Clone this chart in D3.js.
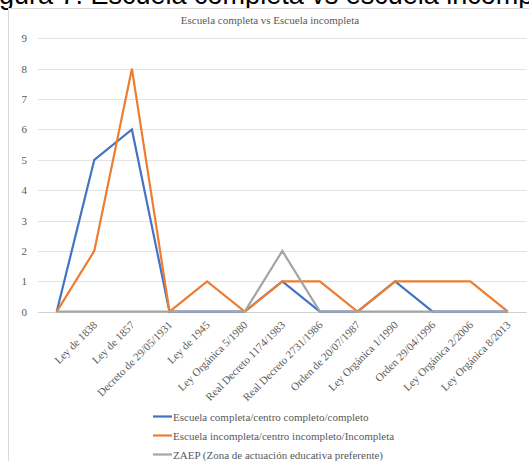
<!DOCTYPE html>
<html>
<head>
<meta charset="utf-8">
<script src="https://cdn.jsdelivr.net/npm/d3@7"></script>
<style>
  html, body { margin: 0; padding: 0; background: #fff; }
  svg { display: block; }
</style>
</head>
<body>
<svg id="chart" width="529" height="461"></svg>
<script>
// Categories (first slot is an unlabeled starting point)
const categories = [
  "", "Ley de 1838", "Ley de 1857", "Decreto de 29/05/1931", "Ley de 1945",
  "Ley Orgánica 5/1980", "Real Decreto 1174/1983", "Real Decreto 2731/1986",
  "Orden de 20/07/1987", "Ley Orgánica 1/1990", "Orden 29/04/1996",
  "Ley Orgánica 2/2006", "Ley Orgánica 8/2013"
];
const completa   = [0, 5, 6, 0, 0, 0, 1, 0, 0, 1, 0, 0, 0];
const incompleta = [0, 2, 8, 0, 1, 0, 1, 1, 0, 1, 1, 1, 0];
const zaep       = [0, 0, 0, 0, 0, 0, 2, 0, 0, 0, 0, 0, 0];
const yTicks = [0, 1, 2, 3, 4, 5, 6, 7, 8, 9];
const seriesNames = [
  "Escuela completa/centro completo/completo",
  "Escuela incompleta/centro incompleto/Incompleta",
  "ZAEP (Zona de actuación educativa preferente)"
];
const seriesColors = ["#4472C4", "#ED7D31", "#A5A5A5"];
const chartTitle = "Escuela completa vs Escuela incompleta";
const captionText = "Figura 7. Escuela completa vs escuela incompleta";

const svg = d3.select("#chart");
const serif = "'Liberation Serif', 'Times New Roman', serif";

// Caption above the chart frame (runs past the page edges)
const cap = svg.append("text")
  .attr("y", 4)
  .attr("font-family", "'Liberation Sans', Arial, sans-serif")
  .attr("font-size", 27)
  .attr("fill", "#000")
  .text(captionText);
const offset = cap.node().getSubStringLength(0, 2);
cap.attr("x", -offset - 1);

// Chart frame
svg.append("rect")
  .attr("x", 8.5).attr("y", 8.5)
  .attr("width", 700).attr("height", 700)
  .attr("fill", "#fff")
  .attr("stroke", "#d9d9d9")
  .attr("stroke-width", 1);

// Title
svg.append("text")
  .attr("x", 270).attr("y", 24)
  .attr("text-anchor", "middle")
  .attr("font-family", serif)
  .attr("font-size", 11)
  .attr("fill", "#595959")
  .text(chartTitle);

const plot = { left: 37.9, right: 526.7, top: 38.3, bottom: 311.7 };

const x = d3.scalePoint()
  .domain(d3.range(categories.length))
  .range([plot.left, plot.right])
  .padding(0.5);

const y = d3.scaleLinear()
  .domain([0, 9])
  .range([plot.bottom, plot.top]);

// Gridlines
svg.append("g")
  .selectAll("line")
  .data(yTicks.filter(d => d > 0))
  .join("line")
  .attr("x1", plot.left).attr("x2", plot.right)
  .attr("y1", d => Math.round(y(d)) + 0.5)
  .attr("y2", d => Math.round(y(d)) + 0.5)
  .attr("stroke", "#e3e3e3")
  .attr("stroke-width", 1);

// Y axis labels
const yAxis = d3.axisLeft(y).tickValues(yTicks).tickSize(0).tickPadding(0);
const yg = svg.append("g")
  .attr("transform", `translate(${27},0)`)
  .call(yAxis);
yg.select(".domain").remove();
yg.selectAll("text")
  .attr("font-family", serif)
  .attr("font-size", 11)
  .attr("fill", "#595959");

// Baseline
svg.append("line")
  .attr("x1", plot.left).attr("x2", plot.right)
  .attr("y1", Math.round(y(0)) + 0.5).attr("y2", Math.round(y(0)) + 0.5)
  .attr("stroke", "#d0d0d0")
  .attr("stroke-width", 1);

// X axis labels, rotated
const xAxis = d3.axisBottom(x).tickFormat(i => categories[i]).tickSize(0).tickPadding(0);
const xg = svg.append("g")
  .attr("transform", `translate(0,${plot.bottom})`)
  .call(xAxis);
xg.select(".domain").remove();
xg.selectAll("text")
  .attr("font-family", serif)
  .attr("font-size", 11)
  .attr("fill", "#595959")
  .attr("text-anchor", "end")
  .attr("dy", 0)
  .attr("y", 0)
  .attr("transform", "translate(3,14) rotate(-45)");

// Series lines
const line = d3.line()
  .x((d, i) => x(i))
  .y(d => y(d));

[completa, incompleta, zaep].forEach((vals, k) => {
  svg.append("path")
    .datum(vals)
    .attr("d", line)
    .attr("fill", "none")
    .attr("stroke", seriesColors[k])
    .attr("stroke-width", 2.2)
    .attr("stroke-linejoin", "miter");
});

// Legend
const legend = svg.append("g");
seriesNames.forEach((name, k) => {
  const ly = 416.5 + k * 19;
  legend.append("line")
    .attr("x1", 153).attr("x2", 172)
    .attr("y1", ly).attr("y2", ly)
    .attr("stroke", seriesColors[k])
    .attr("stroke-width", 2.2);
  legend.append("text")
    .attr("x", 173).attr("y", ly + 4)
    .attr("font-family", serif)
    .attr("font-size", 11)
    .attr("fill", "#595959")
    .text(name);
});
</script>
</body>
</html>
